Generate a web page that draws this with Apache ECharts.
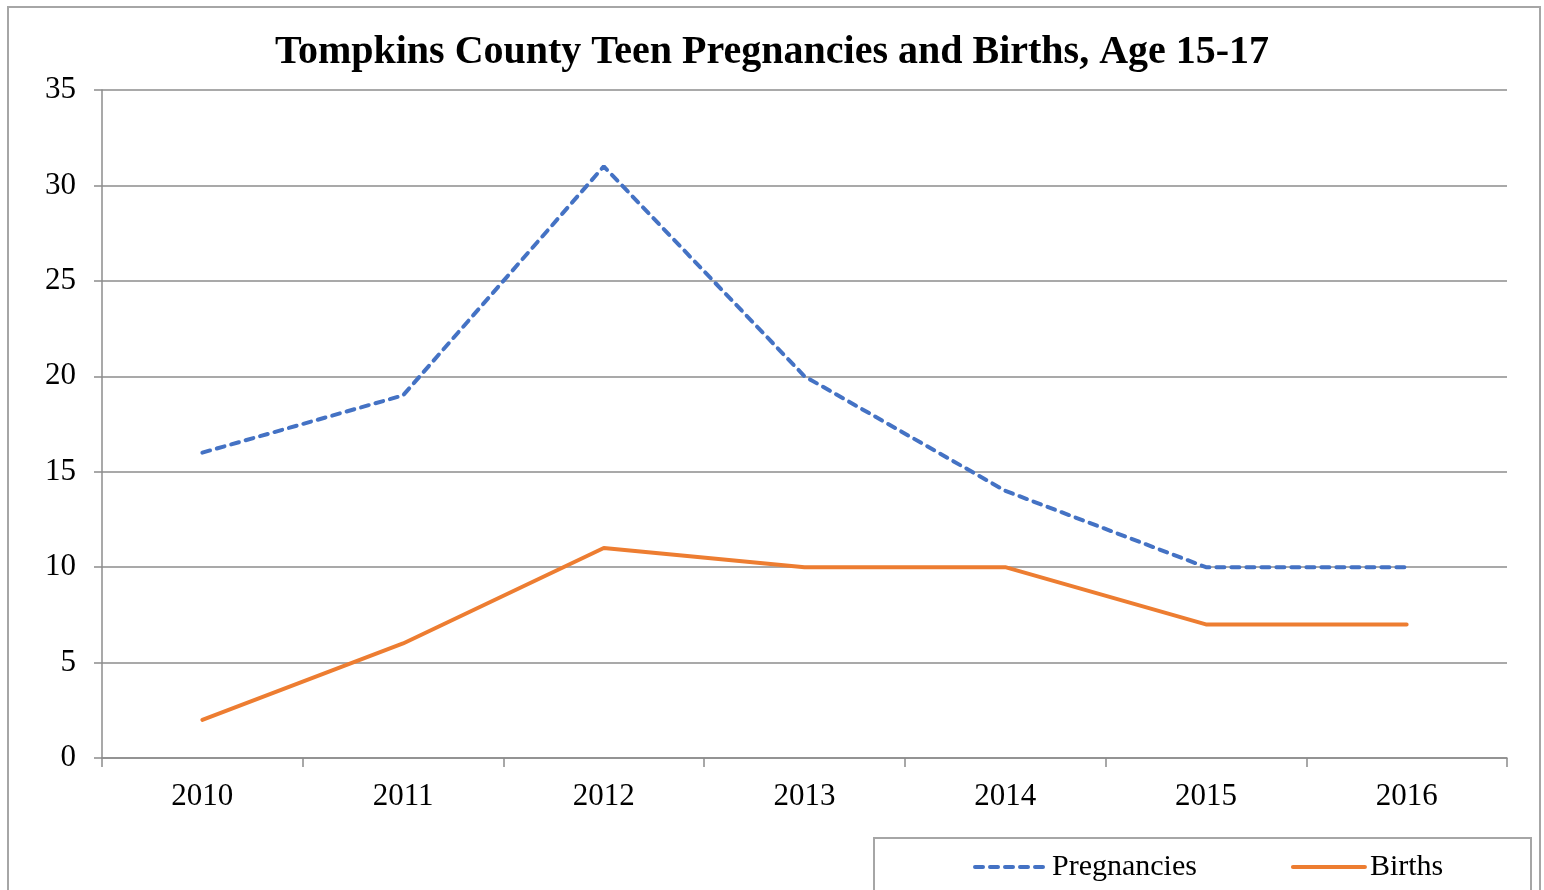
<!DOCTYPE html>
<html>
<head>
<meta charset="utf-8">
<script src="https://cdn.jsdelivr.net/npm/echarts@6/dist/echarts.min.js"></script>
<style>
html, body { margin: 0; padding: 0; background: #fff; }
#chart { width: 1544px; height: 890px; }
</style>
</head>
<body>
<div id="chart"></div>
<script>
// chart data
var years = ['2010', '2011', '2012', '2013', '2014', '2015', '2016'];
var pregnancies = [16, 19, 31, 20, 14, 10, 10];
var births = [2, 6, 11, 10, 10, 7, 7];
var yTicks = [0, 5, 10, 15, 20, 25, 30, 35];

var FONT = '"Liberation Serif", "DejaVu Serif", serif';
var chart = echarts.init(document.getElementById('chart'));

var options = {
	animation: false,
	backgroundColor: '#fff',
	title: {
		text: 'Tompkins County Teen Pregnancies and Births, Age 15-17',
		left: 'center',
		top: 28,
		textStyle: {
			fontFamily: FONT,
			fontWeight: 'bold',
			fontSize: 40,
			color: '#000'
		}
	},
	legend: {
		left: 968,
		top: 847,
		itemWidth: 72,
		itemHeight: 14,
		itemGap: 94,
		itemStyle: { opacity: 0 },
		lineStyle: { width: 4 },
		textStyle: {
			fontFamily: FONT,
			fontSize: 30,
			color: '#000'
		},
		data: ['Pregnancies', 'Births']
	},
	grid: {
		left: 102,
		right: 37,
		top: 90,
		bottom: 132
	},
	xAxis: {
		type: 'category',
		data: years,
		boundaryGap: true,
		axisLine: { lineStyle: { color: '#8c8c8c', width: 1.5 } },
		axisTick: { show: true, length: 9, lineStyle: { color: '#8c8c8c', width: 1.5 } },
		axisLabel: {
			margin: 23,
			fontFamily: FONT,
			fontSize: 31,
			color: '#000'
		}
	},
	yAxis: {
		type: 'value',
		min: yTicks[0],
		max: yTicks[yTicks.length - 1],
		interval: 5,
		axisLine: { show: true, lineStyle: { color: '#8c8c8c', width: 1.5 } },
		axisTick: { show: true, length: 8, lineStyle: { color: '#8c8c8c', width: 1.5 } },
		splitLine: { show: true, lineStyle: { color: '#8c8c8c', width: 1.5 } },
		axisLabel: {
			margin: 26,
			fontFamily: FONT,
			fontSize: 31,
			color: '#000',
			padding: [4, 0, 0, 0]
		}
	},
	series: [{
		name: 'Pregnancies',
		type: 'line',
		data: pregnancies,
		symbol: 'none',
		lineStyle: {
			color: '#4472C4',
			width: 4,
			type: [8, 7],
			cap: 'round'
		},
		itemStyle: { color: '#4472C4' }
	}, {
		name: 'Births',
		type: 'line',
		data: births,
		symbol: 'none',
		lineStyle: {
			color: '#ED7D31',
			width: 4,
			cap: 'round'
		},
		itemStyle: { color: '#ED7D31' }
	}],
	graphic: [{
		type: 'rect',
		silent: true,
		z: -1,
		shape: { x: 8, y: 7, width: 1532, height: 900 },
		style: { fill: 'none', stroke: '#a6a6a6', lineWidth: 2 }
	}, {
		type: 'rect',
		silent: true,
		z: -1,
		shape: { x: 874, y: 838, width: 657, height: 80 },
		style: { fill: 'none', stroke: '#a6a6a6', lineWidth: 2 }
	}]
};

chart.setOption(options);
</script>
</body>
</html>
